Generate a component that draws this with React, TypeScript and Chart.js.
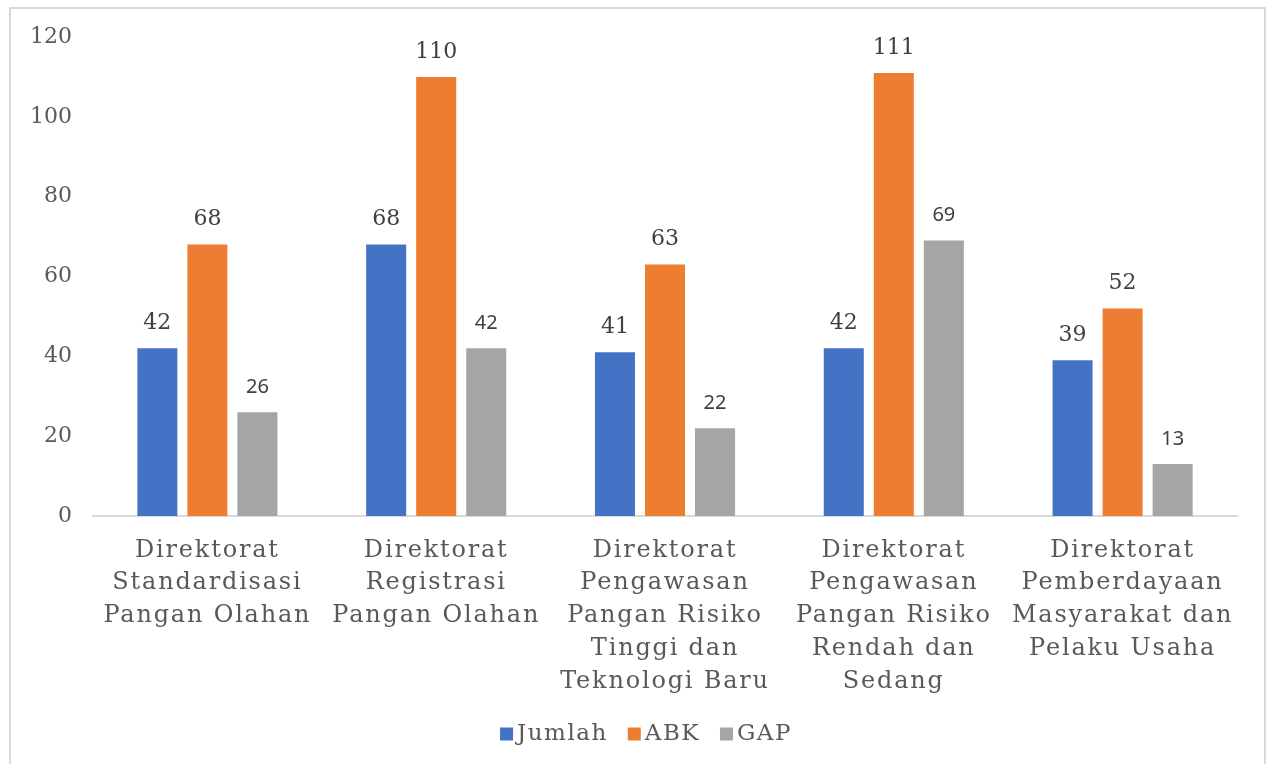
import React, { useEffect, useRef } from 'react';
import { Chart, registerables } from 'chart.js';

Chart.register(...registerables);

const categories: string[][] = [
  ['Direktorat', 'Standardisasi', 'Pangan Olahan'],
  ['Direktorat', 'Registrasi', 'Pangan Olahan'],
  ['Direktorat', 'Pengawasan', 'Pangan Risiko', 'Tinggi dan', 'Teknologi Baru'],
  ['Direktorat', 'Pengawasan', 'Pangan Risiko', 'Rendah dan', 'Sedang'],
  ['Direktorat', 'Pemberdayaan', 'Masyarakat dan', 'Pelaku Usaha'],
];
const seriesNames = ['Jumlah', 'ABK', 'GAP'];
const jumlah = [42, 68, 41, 42, 39];
const abk = [68, 110, 63, 111, 52];
const gap = [26, 42, 22, 69, 13];
const yMin = 0;
const yMax = 120;
const yStep = 20;

const colors = ['#4472C4', '#ED7D31', '#A5A5A5'];
const TEXT = '#595959';
const SERIF = '"DejaVu Serif", serif';
const SANS = '"Noto Sans", sans-serif';
const WIDE = '1.8px';

const borderPlugin = {
  id: 'outerBorder',
  beforeDraw(chart: any) {
    const ctx = chart.ctx;
    ctx.save();
    ctx.strokeStyle = '#d9d9d9';
    ctx.lineWidth = 2;
    ctx.strokeRect(10, 8, 1255, 790);
    ctx.restore();
    // wide spacing for the category labels (x axis drawn before datasets)
    ctx.letterSpacing = WIDE;
  },
  beforeDatasetsDraw(chart: any) {
    chart.ctx.letterSpacing = '0px';
  },
};

const labelPlugin = {
  id: 'valueLabels',
  afterDatasetsDraw(chart: any) {
    const ctx = chart.ctx;
    ctx.save();
    ctx.letterSpacing = '0px';
    ctx.fillStyle = '#404040';
    ctx.textAlign = 'center';
    ctx.textBaseline = 'middle';
    chart.data.datasets.forEach((ds: any, i: number) => {
      const meta = chart.getDatasetMeta(i);
      ctx.font = i === 2 ? `20px ${SANS}` : `22px ${SERIF}`;
      meta.data.forEach((bar: any, j: number) => {
        ctx.fillText(String(ds.data[j]), bar.x, bar.y - 25);
      });
    });
    ctx.restore();
  },
};

const legendPlugin = {
  id: 'customLegend',
  afterDraw(chart: any) {
    const ctx = chart.ctx;
    ctx.save();
    ctx.letterSpacing = '1.5px';
    ctx.font = `23px ${SERIF}`;
    ctx.textBaseline = 'middle';
    const box = 13;
    const gapBoxText = 4;
    const gapItems = 20;
    const widths = seriesNames.map((n) => box + gapBoxText + ctx.measureText(n).width);
    const total = widths.reduce((a, b) => a + b, 0) + gapItems * (seriesNames.length - 1);
    let x = (chart.width - total) / 2 + 13;
    const y = 734;
    seriesNames.forEach((n, i) => {
      ctx.fillStyle = colors[i];
      ctx.fillRect(x, y - box / 2, box, box);
      ctx.fillStyle = TEXT;
      ctx.fillText(n, x + box + gapBoxText, y);
      x += widths[i] + gapItems;
    });
    ctx.restore();
    ctx.letterSpacing = '0px';
  },
};

export default function App() {
  const ref = useRef<HTMLCanvasElement | null>(null);
  useEffect(() => {
    document.body.style.margin = '0';
    const canvas = ref.current!;
    const chart = new Chart(canvas, {
      type: 'bar',
      data: {
        labels: categories,
        datasets: [
          { label: seriesNames[0], data: jumlah, backgroundColor: colors[0] },
          { label: seriesNames[1], data: abk, backgroundColor: colors[1] },
          { label: seriesNames[2], data: gap, backgroundColor: colors[2] },
        ],
      },
      options: {
        responsive: false,
        animation: false,
        devicePixelRatio: 1,
        layout: { padding: { left: 0, right: 29, top: 37, bottom: 51 } },
        datasets: {
          bar: { categoryPercentage: 0.656, barPercentage: 0.8 },
        },
        plugins: {
          legend: { display: false },
          tooltip: { enabled: false },
        },
        scales: {
          x: {
            grid: { display: false, drawTicks: false },
            border: { display: true, color: '#d9d9d9', width: 2 },
            ticks: {
              color: TEXT,
              font: { family: SERIF, size: 24, lineHeight: 1.365 },
              padding: 18,
              maxRotation: 0,
              autoSkip: false,
            },
            afterFit(scale: any) {
              scale.height = 197;
            },
          },
          y: {
            min: yMin,
            max: yMax,
            grid: { display: false, drawTicks: false },
            border: { display: false },
            ticks: {
              stepSize: yStep,
              color: TEXT,
              font: { family: SERIF, size: 22 },
              padding: 21,
              z: 1,
            },
            afterFit(scale: any) {
              scale.width = 93;
            },
          },
        },
      },
      plugins: [borderPlugin, labelPlugin, legendPlugin],
    });
    return () => chart.destroy();
  }, []);
  return <canvas ref={ref} width={1266} height={764} style={{ display: 'block' }} />;
}
